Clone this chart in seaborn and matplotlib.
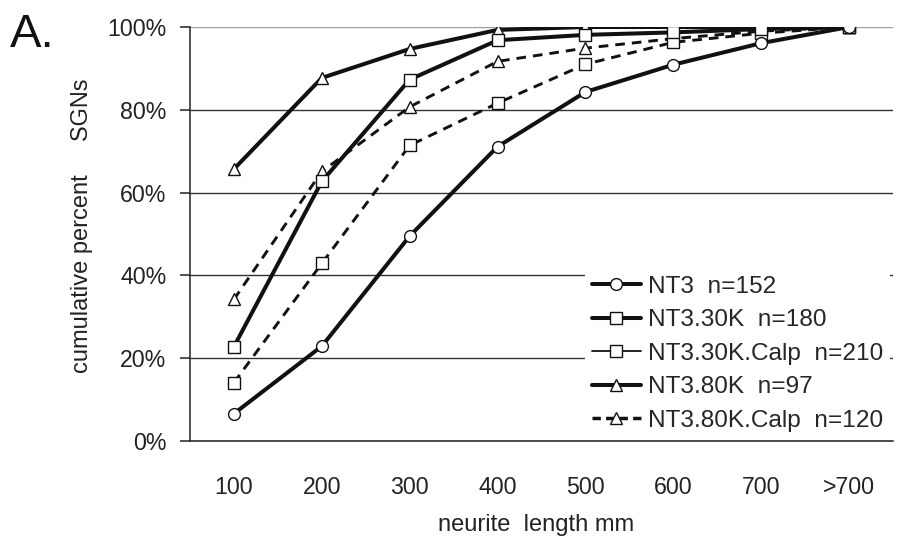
import numpy as np
import pandas as pd
import matplotlib
matplotlib.use("Agg")
import matplotlib.pyplot as plt
from matplotlib.lines import Line2D
import seaborn as sns

# ---- data ----
categories = ["100", "200", "300", "400", "500", "600", "700", ">700"]
nt3 = [6.6, 22.9, 49.5, 71.1, 84.3, 90.9, 96.1, 100]
nt3_30k = [22.8, 62.7, 87.3, 96.8, 98.1, 98.7, 99.5, 100]
nt3_30k_calp = [14.1, 42.9, 71.4, 81.6, 91.0, 96.3, 98.5, 100]
nt3_80k = [65.7, 87.7, 94.7, 99.3, 100, 100, 100, 100]
nt3_80k_calp = [34.2, 65.1, 80.7, 91.7, 94.9, 97.2, 99.0, 100]
series_names = ["NT3  n=152", "NT3.30K  n=180", "NT3.30K.Calp  n=210",
                "NT3.80K  n=97", "NT3.80K.Calp  n=120"]
series_values = [nt3, nt3_30k, nt3_30k_calp, nt3_80k, nt3_80k_calp]
y_ticks = [0, 20, 40, 60, 80, 100]
y_tick_labels = ["0%", "20%", "40%", "60%", "80%", "100%"]

styles = {
    "NT3  n=152": dict(marker="o", dashed=False),
    "NT3.30K  n=180": dict(marker="s", dashed=False),
    "NT3.30K.Calp  n=210": dict(marker="s", dashed=True),
    "NT3.80K  n=97": dict(marker="^", dashed=False),
    "NT3.80K.Calp  n=120": dict(marker="^", dashed=True),
}

rows = []
for name, vals in zip(series_names, series_values):
    for i, v in enumerate(vals):
        rows.append({"series": name, "pos": i, "value": v})
df = pd.DataFrame(rows)

sns.set_style("white")
plt.rcParams["font.family"] = ["Liberation Sans", "DejaVu Sans"]

fig = plt.figure(figsize=(8.97, 5.45), dpi=100)
ax = fig.add_axes([190 / 897, 1 - 441 / 545, 703 / 897, (441 - 27) / 545])

ink = "#111111"
draw_order = series_names[::-1]
for name in draw_order:
    st = styles[name]
    sub = df[df["series"] == name]
    ls = (0, (3.3, 2.4)) if st["dashed"] else "-"
    lw = 2.1 if st["dashed"] else 2.9
    ms = 8.5 if st["marker"] != "s" else 8
    sns.lineplot(data=sub, x="pos", y="value", ax=ax, color=ink,
                 linewidth=lw, linestyle=ls, marker=st["marker"],
                 markersize=ms, markerfacecolor="white",
                 markeredgecolor=ink, markeredgewidth=1.0,
                 zorder=3, estimator=None, legend=False)

ax.set_xlim(-0.5, len(categories) - 0.5)
ax.set_ylim(0, 100)

# x ticks: labels at centers, tick marks at boundaries
ax.set_xticks(np.arange(len(categories)))
ax.set_xticklabels(categories, fontsize=16.7, color="#222222")
ax.tick_params(axis="x", which="major", length=0, pad=25)
ax.set_xticks(np.arange(len(categories) + 1) - 0.5, minor=True)
ax.tick_params(axis="x", which="minor", length=7, width=1.1,
               direction="out", color="#222222")

ax.set_yticks(y_ticks)
ax.set_yticklabels(y_tick_labels, fontsize=16.7, color="#222222")
ax.tick_params(axis="y", length=7, width=1.1, direction="out",
               color="#222222", pad=10, left=True)

ax.yaxis.grid(True, color="#333333", linewidth=1.0)
gls = ax.get_ygridlines()
gls[-1].set_color("#9aa0a6")
ax.set_axisbelow(True)

for s in ["top", "right"]:
    ax.spines[s].set_visible(False)
for s in ["left", "bottom"]:
    ax.spines[s].set_color("#222222")
    ax.spines[s].set_linewidth(1.1)

ax.set_xlabel("neurite  length mm", fontsize=17, color="#222222")
ax.xaxis.set_label_coords((536 - 190) / 703, (441 - 514) / 414)
ax.set_ylabel("cumulative percent     SGNs", fontsize=17, color="#222222")
ax.yaxis.set_label_coords((93 - 190) / 703, (441 - 226) / 414)

# legend handles styled like the original figure's legend
leg_styles = {
    "NT3  n=152": dict(lw=2.9, ls="-"),
    "NT3.30K  n=180": dict(lw=2.9, ls="-"),
    "NT3.30K.Calp  n=210": dict(lw=1.3, ls="-"),
    "NT3.80K  n=97": dict(lw=2.9, ls="-"),
    "NT3.80K.Calp  n=120": dict(lw=2.5, ls=(0, (2.4, 1.5))),
}
handles = []
for name in series_names:
    ms = 8.5 if styles[name]["marker"] != "s" else 8
    handles.append(Line2D([], [], color=ink, marker=styles[name]["marker"],
                          markersize=ms, markerfacecolor="white",
                          markeredgecolor=ink, markeredgewidth=1.0,
                          linewidth=leg_styles[name]["lw"],
                          linestyle=leg_styles[name]["ls"]))
leg = ax.legend(handles, series_names,
                loc="lower left", bbox_to_anchor=(0.562, 0.004),
                frameon=True, fontsize=17.6, handlelength=1.97,
                handletextpad=0.29, labelspacing=0.47, borderpad=0.3,
                borderaxespad=0, fancybox=False)
leg.get_frame().set_facecolor("white")
leg.get_frame().set_edgecolor("none")
leg.get_frame().set_alpha(1.0)
leg.set_zorder(5)

fig.text(10 / 897, 1 - 47 / 545, "A.", fontsize=34, color="#111111",
         ha="left", va="baseline")

fig.savefig("out.png", dpi=100)
